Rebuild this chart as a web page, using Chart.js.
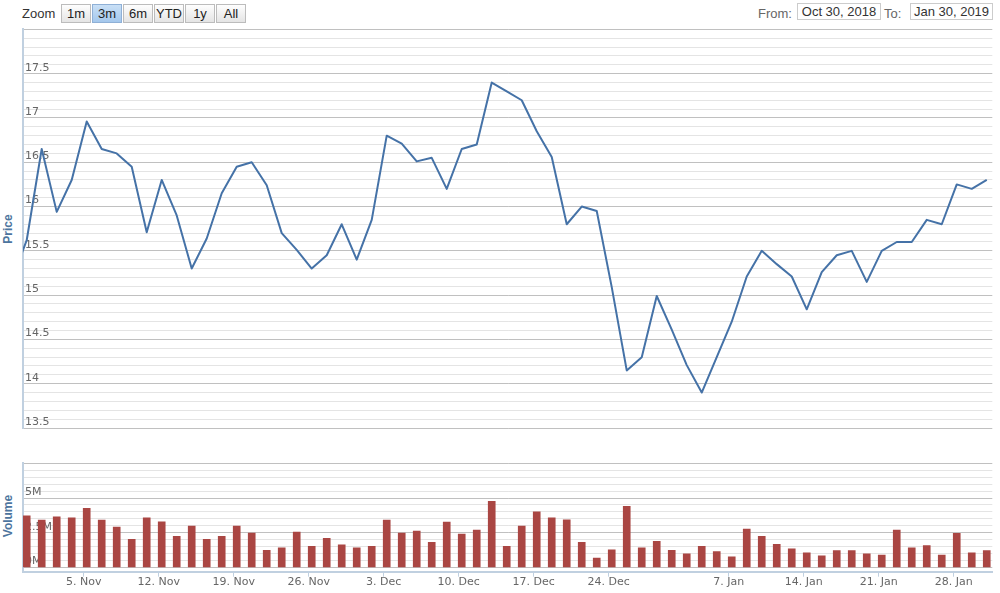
<!DOCTYPE html>
<html>
<head>
<meta charset="utf-8">
<script src="https://cdn.jsdelivr.net/npm/chart.js@4.4.1/dist/chart.umd.min.js"></script>
<style>
  body { margin: 0; width: 1000px; height: 593px; background: #fff; position: relative; overflow: hidden;
         font-family: "Liberation Sans", Arial, sans-serif; }
  canvas { position: absolute; left: 0; }
  #priceChart { top: 0; }
  #volumeChart { top: 440px; }
  .lbl { position: absolute; font-size: 13px; line-height: 19px; top: 4px; }
  .btn { position: absolute; top: 4px; width: 30px; height: 19px; box-sizing: border-box; border: 1px solid #bcbcbc;
         background: linear-gradient(#fefefe, #e4e4e4); font-size: 13px; line-height: 17px; text-align: center; color: #222; }
  .btn.sel { background: linear-gradient(#c9e0f6, #a4c7ec); border-color: #8fb0d6; }
  .date { position: absolute; top: 3px; height: 17px; box-sizing: border-box; border: 1px solid #ccc; font-size: 13px;
          line-height: 15px; text-align: center; color: #333; }
  .axtitle { position: absolute; font-weight: bold; font-size: 12px; color: #4d759e; transform: rotate(-90deg);
             white-space: nowrap; width: 80px; text-align: center; margin-left: -40px; margin-top: -8px; line-height: 16px; }
</style>
</head>
<body>
<div class="lbl" style="left:22px;color:#333">Zoom</div>
<div id="buttons"></div>
<div class="lbl" style="left:758px;color:#666">From:</div>
<div class="date" style="left:797px;width:84px">Oct 30, 2018</div>
<div class="lbl" style="left:884px;color:#666">To:</div>
<div class="date" style="left:910px;width:83px">Jan 30, 2019</div>
<div class="axtitle" style="left:8px;top:229px">Price</div>
<div class="axtitle" style="left:8px;top:516px">Volume</div>
<canvas id="priceChart" width="1000" height="440"></canvas>
<canvas id="volumeChart" width="1000" height="153"></canvas>
<script>
// trading days, first one lies just left of the visible range
const dates = [
  "2018-10-29", "2018-10-30", "2018-10-31", "2018-11-01", "2018-11-02",
  "2018-11-05", "2018-11-06", "2018-11-07", "2018-11-08", "2018-11-09",
  "2018-11-12", "2018-11-13", "2018-11-14", "2018-11-15", "2018-11-16",
  "2018-11-19", "2018-11-20", "2018-11-21", "2018-11-22", "2018-11-23",
  "2018-11-26", "2018-11-27", "2018-11-28", "2018-11-29", "2018-11-30",
  "2018-12-03", "2018-12-04", "2018-12-05", "2018-12-06", "2018-12-07",
  "2018-12-10", "2018-12-11", "2018-12-12", "2018-12-13", "2018-12-14",
  "2018-12-17", "2018-12-18", "2018-12-19", "2018-12-20", "2018-12-21",
  "2018-12-24", "2018-12-26", "2018-12-27", "2018-12-28", "2018-12-31",
  "2019-01-02", "2019-01-03", "2019-01-04",
  "2019-01-07", "2019-01-08", "2019-01-09", "2019-01-10", "2019-01-11",
  "2019-01-14", "2019-01-15", "2019-01-16", "2019-01-17", "2019-01-18",
  "2019-01-21", "2019-01-22", "2019-01-23", "2019-01-24", "2019-01-25",
  "2019-01-28", "2019-01-29", "2019-01-30"
];

const prices = [
  15.17, 15.62, 16.65, 15.94, 16.30,
  16.96, 16.65, 16.60, 16.45, 15.71,
  16.30, 15.90, 15.30, 15.64, 16.15,
  16.45, 16.50, 16.24, 15.70, 15.51,
  15.30, 15.45, 15.80, 15.40, 15.85,
  16.80, 16.71, 16.51, 16.55, 16.20,
  16.65, 16.70, 17.40, 17.30, 17.20,
  16.85, 16.56, 15.80, 16.00, 15.95,
  15.09, 14.15, 14.30, 14.99, 14.61,
  14.21, 13.90, 14.30,
  14.70, 15.21, 15.50, 15.35, 15.21,
  14.84, 15.26, 15.45, 15.50, 15.15,
  15.50, 15.60, 15.60, 15.85, 15.80,
  16.25, 16.20, 16.30
];

// volume in millions
const volumes = [
  null, 3.72, 3.41, 3.65, 3.58,
  4.26, 3.41, 2.91, 2.02, 3.58,
  3.29, 2.24, 2.98, 2.02, 2.24,
  2.98, 2.47, 1.23, 1.41, 2.55,
  1.52, 2.09, 1.63, 1.41, 1.52,
  3.41, 2.47, 2.62, 1.80, 3.27,
  2.40, 2.69, 4.76, 1.52, 2.98,
  4.01, 3.58, 3.43, 1.80, 0.67,
  1.27, 4.40, 1.41, 1.88, 1.23,
  0.98, 1.52, 1.13,
  0.76, 2.76, 2.24, 1.66, 1.34,
  1.05, 0.82, 1.20, 1.20, 0.98,
  0.89, 2.69, 1.41, 1.56, 0.89,
  2.45, 1.05, 1.20
];

const tickLabels = ["5. Nov", "12. Nov", "19. Nov", "26. Nov", "3. Dec", "10. Dec",
  "17. Dec", "24. Dec", "7. Jan", "14. Jan", "21. Jan", "28. Jan"];
const tickDates = ["2018-11-05", "2018-11-12", "2018-11-19", "2018-11-26", "2018-12-03", "2018-12-10",
  "2018-12-17", "2018-12-24", "2019-01-07", "2019-01-14", "2019-01-21", "2019-01-28"];

const zoomButtons = ["1m", "3m", "6m", "YTD", "1y", "All"];
const selectedButton = "3m";

const X_MIN = 0.753;
const X_MAX = 65.37;
const TICK_SHIFT = -0.2;

function renderButtons() {
  let content = document.getElementById("buttons");
  content.innerHTML = "";
  zoomButtons.forEach((b, i) => {
    let cls = b == selectedButton ? "btn sel" : "btn";
    content.innerHTML += `<div class="${cls}" style="left:${61 + i * 31}px">${b}</div>`;
  });
}

function isMultiple(v, step) {
  return Math.abs(v / step - Math.round(v / step)) < 1e-6;
}

function range(from, to, step) {
  let out = [];
  let n = Math.round((to - from) / step);
  for (let k = 0; k <= n; k++) out.push(Math.round((from + k * step) * 1000) / 1000);
  return out;
}

const labelFont = { family: "DejaVu Sans", size: 11 };
const tickPos = tickDates.map((d) => dates.indexOf(d) + TICK_SHIFT);

function renderPriceChart() {
  const ctx = document.getElementById("priceChart");
  new Chart(ctx, {
    type: "line",
    data: {
      datasets: [{
        data: dates.map((d, i) => ({ x: i, y: prices[i] })),
        borderColor: "#4572A7",
        borderWidth: 2,
        borderJoinStyle: "round",
        pointRadius: 0,
        tension: 0,
        fill: false,
      }],
    },
    options: {
      responsive: false,
      animation: false,
      events: [],
      layout: { padding: { left: 23, right: 7.7, top: 29.4, bottom: 12 } },
      plugins: { legend: { display: false }, tooltip: { enabled: false } },
      scales: {
        x: { type: "linear", min: X_MIN, max: X_MAX, display: false },
        y: {
          min: 13.5,
          max: 18,
          afterBuildTicks: (s) => { s.ticks = range(13.5, 18, 0.1).map((v) => ({ value: v })); },
          afterFit: (s) => { s.width = 0; },
          grid: {
            color: (c) => (isMultiple(c.tick.value, 0.5) ? "#C0C0C0" : "#E4E4E4"),
            drawTicks: false,
          },
          border: { display: true, color: "#C0D0E0", width: 2 },
          ticks: {
            mirror: true,
            padding: 2,
            labelOffset: -6,
            autoSkip: false,
            color: "#666",
            font: labelFont,
            callback: (v) => (isMultiple(v, 0.5) && v < 18 ? String(v) : ""),
          },
        },
      },
    },
  });
}

function renderVolumeChart() {
  const ctx = document.getElementById("volumeChart");
  new Chart(ctx, {
    type: "bar",
    data: {
      datasets: [{
        data: dates.map((d, i) => ({ x: i, y: volumes[i] })),
        backgroundColor: "#AA4643",
        barThickness: 7,
        borderWidth: 0,
      }],
    },
    options: {
      responsive: false,
      animation: false,
      events: [],
      layout: { padding: { left: 23, right: 7.7, top: 23.4, bottom: 0 } },
      plugins: { legend: { display: false }, tooltip: { enabled: false } },
      scales: {
        x: {
          type: "linear",
          min: X_MIN,
          max: X_MAX,
          offset: false,
          afterBuildTicks: (s) => { s.ticks = tickPos.map((v) => ({ value: v })); },
          afterFit: (s) => { s.height = 21.3; },
          grid: { offset: false, drawOnChartArea: false, drawTicks: true, tickLength: 5, tickColor: "#C0D0E0" },
          border: { display: true, color: "#C0D0E0", width: 2 },
          ticks: {
            autoSkip: false,
            maxRotation: 0,
            padding: -1,
            color: "#666",
            font: labelFont,
            callback: (v) => {
              let k = tickPos.findIndex((p) => Math.abs(p - v) < 1e-6);
              return k >= 0 ? tickLabels[k] : "";
            },
          },
        },
        y: {
          min: -0.317,
          max: 7.5,
          afterBuildTicks: (s) => { s.ticks = range(0, 7.5, 0.5).map((v) => ({ value: v })); },
          afterFit: (s) => { s.width = 0; },
          grid: {
            color: (c) => (isMultiple(c.tick.value, 2.5) ? "#C0C0C0" : "#E4E4E4"),
            drawTicks: false,
          },
          border: { display: true, color: "#C0D0E0", width: 2 },
          ticks: {
            mirror: true,
            padding: 2,
            labelOffset: -6,
            autoSkip: false,
            color: "#666",
            font: labelFont,
            callback: (v) => (isMultiple(v, 2.5) && v < 7.5 ? v + "M" : ""),
          },
        },
      },
    },
  });
}

renderButtons();
renderPriceChart();
renderVolumeChart();
</script>
</body>
</html>
